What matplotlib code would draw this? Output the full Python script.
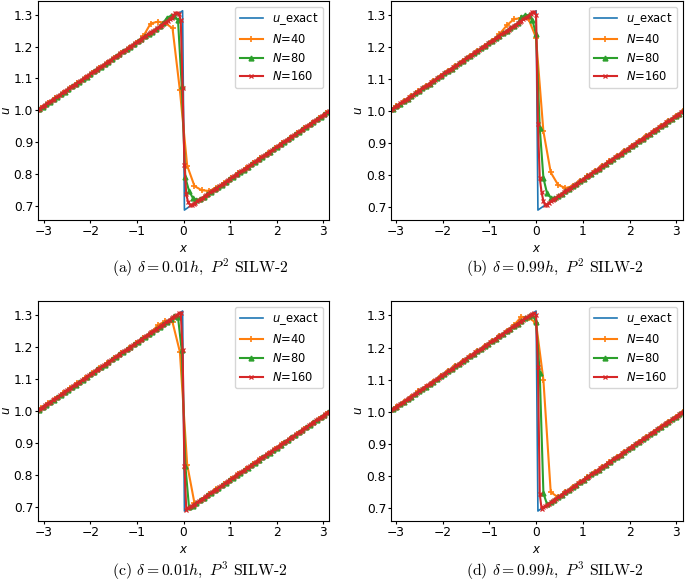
import numpy as np
import matplotlib.pyplot as plt

# exact solution read on the cell-centred grids (panels a, c)
ex40_c = [1.008, 1.024, 1.039, 1.055, 1.071, 1.086, 1.102, 1.118, 1.134, 1.149,
          1.165, 1.181, 1.196, 1.212, 1.228, 1.243, 1.259, 1.275, 1.291, 1.306,
          0.694, 0.709, 0.725, 0.741, 0.757, 0.772, 0.788, 0.804, 0.819, 0.835,
          0.851, 0.866, 0.882, 0.898, 0.914, 0.929, 0.945, 0.961, 0.976, 0.992]
ex80_c = [1.004, 1.012, 1.020, 1.027, 1.035, 1.043, 1.051, 1.059, 1.067, 1.075,
          1.082, 1.090, 1.098, 1.106, 1.114, 1.122, 1.130, 1.137, 1.145, 1.153,
          1.161, 1.169, 1.177, 1.185, 1.192, 1.200, 1.208, 1.216, 1.224, 1.232,
          1.240, 1.247, 1.255, 1.263, 1.271, 1.279, 1.287, 1.295, 1.302, 1.310,
          0.690, 0.698, 0.705, 0.713, 0.721, 0.729, 0.737, 0.745, 0.753, 0.760,
          0.768, 0.776, 0.784, 0.792, 0.800, 0.808, 0.815, 0.823, 0.831, 0.839,
          0.847, 0.855, 0.863, 0.870, 0.878, 0.886, 0.894, 0.902, 0.910, 0.918,
          0.925, 0.933, 0.941, 0.949, 0.957, 0.965, 0.973, 0.980, 0.988, 0.996]
ex160_c = [1.002, 1.006, 1.010, 1.014, 1.018, 1.022, 1.026, 1.029, 1.033, 1.037,
           1.041, 1.045, 1.049, 1.053, 1.057, 1.061, 1.065, 1.069, 1.073, 1.077,
           1.081, 1.084, 1.088, 1.092, 1.096, 1.100, 1.104, 1.108, 1.112, 1.116,
           1.120, 1.124, 1.128, 1.132, 1.135, 1.139, 1.143, 1.147, 1.151, 1.155,
           1.159, 1.163, 1.167, 1.171, 1.175, 1.179, 1.183, 1.187, 1.190, 1.194,
           1.198, 1.202, 1.206, 1.210, 1.214, 1.218, 1.222, 1.226, 1.230, 1.234,
           1.238, 1.242, 1.245, 1.249, 1.253, 1.257, 1.261, 1.265, 1.269, 1.273,
           1.277, 1.281, 1.285, 1.289, 1.293, 1.297, 1.300, 1.304, 1.308, 1.312,
           0.688, 0.692, 0.696, 0.700, 0.704, 0.707, 0.711, 0.715, 0.719, 0.723,
           0.727, 0.731, 0.735, 0.739, 0.743, 0.747, 0.751, 0.755, 0.758, 0.762,
           0.766, 0.770, 0.774, 0.778, 0.782, 0.786, 0.790, 0.794, 0.798, 0.802,
           0.806, 0.810, 0.813, 0.817, 0.821, 0.825, 0.829, 0.833, 0.837, 0.841,
           0.845, 0.849, 0.853, 0.857, 0.861, 0.865, 0.868, 0.872, 0.876, 0.880,
           0.884, 0.888, 0.892, 0.896, 0.900, 0.904, 0.908, 0.912, 0.916, 0.920,
           0.923, 0.927, 0.931, 0.935, 0.939, 0.943, 0.947, 0.951, 0.955, 0.959,
           0.963, 0.967, 0.971, 0.974, 0.978, 0.982, 0.986, 0.990, 0.994, 0.998]

# exact solution read on the shifted grids (panels b, d)
ex40_s = [1.016, 1.031, 1.047, 1.063, 1.078, 1.094, 1.110, 1.126, 1.141, 1.157,
          1.173, 1.188, 1.204, 1.220, 1.235, 1.251, 1.267, 1.283, 1.298, 1.314,
          0.701, 0.717, 0.733, 0.749, 0.764, 0.780, 0.796, 0.811, 0.827, 0.843,
          0.858, 0.874, 0.890, 0.906, 0.921, 0.937, 0.953, 0.968, 0.984, 1.000]
ex80_s = [1.008, 1.016, 1.023, 1.031, 1.039, 1.047, 1.055, 1.063, 1.071, 1.078,
          1.086, 1.094, 1.102, 1.110, 1.118, 1.126, 1.133, 1.141, 1.149, 1.157,
          1.165, 1.173, 1.181, 1.188, 1.196, 1.204, 1.212, 1.220, 1.228, 1.236,
          1.243, 1.251, 1.259, 1.267, 1.275, 1.283, 1.291, 1.298, 1.306, 1.314,
          0.694, 0.701, 0.709, 0.717, 0.725, 0.733, 0.741, 0.749, 0.756, 0.764,
          0.772, 0.780, 0.788, 0.796, 0.804, 0.811, 0.819, 0.827, 0.835, 0.843,
          0.851, 0.859, 0.866, 0.874, 0.882, 0.890, 0.898, 0.906, 0.914, 0.921,
          0.929, 0.937, 0.945, 0.953, 0.961, 0.969, 0.976, 0.984, 0.992, 1.000]
ex160_s = [1.004, 1.008, 1.012, 1.016, 1.020, 1.024, 1.027, 1.031, 1.035, 1.039,
           1.043, 1.047, 1.051, 1.055, 1.059, 1.063, 1.067, 1.071, 1.075, 1.079,
           1.082, 1.086, 1.090, 1.094, 1.098, 1.102, 1.106, 1.110, 1.114, 1.118,
           1.122, 1.126, 1.130, 1.133, 1.137, 1.141, 1.145, 1.149, 1.153, 1.157,
           1.161, 1.165, 1.169, 1.173, 1.177, 1.181, 1.185, 1.188, 1.192, 1.196,
           1.200, 1.204, 1.208, 1.212, 1.216, 1.220, 1.224, 1.228, 1.232, 1.236,
           1.240, 1.243, 1.247, 1.251, 1.255, 1.259, 1.263, 1.267, 1.271, 1.275,
           1.279, 1.283, 1.287, 1.291, 1.294, 1.298, 1.302, 1.306, 1.310, 1.314,
           0.690, 0.694, 0.698, 0.702, 0.705, 0.709, 0.713, 0.717, 0.721, 0.725,
           0.729, 0.733, 0.737, 0.741, 0.745, 0.749, 0.753, 0.756, 0.760, 0.764,
           0.768, 0.772, 0.776, 0.780, 0.784, 0.788, 0.792, 0.796, 0.800, 0.804,
           0.808, 0.811, 0.815, 0.819, 0.823, 0.827, 0.831, 0.835, 0.839, 0.843,
           0.847, 0.851, 0.855, 0.859, 0.863, 0.866, 0.870, 0.874, 0.878, 0.882,
           0.886, 0.890, 0.894, 0.898, 0.902, 0.906, 0.910, 0.914, 0.917, 0.921,
           0.925, 0.929, 0.933, 0.937, 0.941, 0.945, 0.949, 0.953, 0.957, 0.961,
           0.965, 0.969, 0.972, 0.976, 0.980, 0.984, 0.988, 0.992, 0.996, 1.000]

# numerical values near the jump (grid index -> u); elsewhere they sit on the exact line
a40 = {14: 1.232, 15: 1.272, 16: 1.278, 17: 1.274, 18: 1.257, 19: 1.064,
       20: 0.827, 21: 0.763, 22: 0.750, 23: 0.748, 24: 0.758}
a80 = {34: 1.275, 35: 1.290, 36: 1.296, 37: 1.296, 38: 1.282, 39: 1.078,
       40: 0.790, 41: 0.748, 42: 0.727, 43: 0.720, 44: 0.722}
a160 = {74: 1.298, 75: 1.304, 76: 1.306, 77: 1.303, 78: 1.282, 79: 1.070,
        80: 0.830, 81: 0.737, 82: 0.713, 83: 0.705, 84: 0.704, 85: 0.707}

b40 = {14: 1.240, 15: 1.268, 16: 1.288, 17: 1.291, 18: 1.287, 19: 1.230,
       20: 0.937, 21: 0.808, 22: 0.769, 23: 0.759, 24: 0.765}
b80 = {35: 1.293, 36: 1.301, 37: 1.300, 38: 1.285, 39: 1.240,
       40: 0.948, 41: 0.790, 42: 0.742, 43: 0.729, 44: 0.727}
b160 = {76: 1.305, 77: 1.309, 78: 1.310, 79: 1.300,
        80: 0.960, 81: 0.790, 82: 0.745, 83: 0.718, 84: 0.707, 85: 0.707}

c40 = {16: 1.268, 17: 1.280, 18: 1.277, 19: 1.185, 20: 0.833, 21: 0.712, 22: 0.723}
c80 = {37: 1.296, 38: 1.292, 39: 1.190, 40: 0.830, 41: 0.700}
c160 = {77: 1.305, 78: 1.305, 79: 1.190, 80: 0.830, 81: 0.692}

d40 = {16: 1.270, 17: 1.296, 18: 1.293, 19: 1.277, 20: 1.100, 21: 0.749, 22: 0.733}
d80 = {37: 1.298, 38: 1.303, 39: 1.280, 40: 1.120, 41: 0.745, 42: 0.711}
d160 = {78: 1.307, 79: 1.300, 80: 1.140, 81: 0.743, 82: 0.697}

captions = [r"(a) $\delta=0.01h,\ P^2$ SILW-2",
            r"(b) $\delta=0.99h,\ P^2$ SILW-2",
            r"(c) $\delta=0.01h,\ P^3$ SILW-2",
            r"(d) $\delta=0.99h,\ P^3$ SILW-2"]


def grid(n, off):
    h = 2 * np.pi / n
    return -np.pi + (np.arange(n) + off) * h


def numeric(base, near):
    u = np.array(base, dtype=float)
    for i, v in near.items():
        u[i] = v
    return u


panels = [
    (0.5, [ex40_c, ex80_c, ex160_c], [a40, a80, a160]),
    (0.99, [ex40_s, ex80_s, ex160_s], [b40, b80, b160]),
    (0.5, [ex40_c, ex80_c, ex160_c], [c40, c80, c160]),
    (0.99, [ex40_s, ex80_s, ex160_s], [d40, d80, d160]),
]

fig = plt.figure(figsize=(6.85, 5.83), dpi=100)
boxes = [[0.0555, 0.6226, 0.4248, 0.376],
         [0.5708, 0.6226, 0.4263, 0.376],
         [0.0555, 0.1063, 0.4248, 0.3774],
         [0.5708, 0.1063, 0.4263, 0.3774]]
ylpad = [0.3, 1.0, 0.3, 1.0]
cap_x = [200 / 685, 555 / 685, 200 / 685, 555 / 685]
cap_y = [1 - 268 / 583, 1 - 268 / 583, 1 - 571 / 583, 1 - 571 / 583]

styles = [("C1", "+", 5, 1.2, r"$N$=40"), ("C2", "^", 3.5, 1.0, r"$N$=80"),
          ("C3", "x", 2.2, 0.9, r"$N$=160")]

for k, (off, bases, nears) in enumerate(panels):
    ax = fig.add_axes(boxes[k])
    xe = grid(160, off)
    ax.plot(xe, bases[2], color="C0", lw=1.2, label=r"$u$_exact")
    for (col, mk, ms, mw, lab), base, near in zip(styles, bases, nears):
        n = len(base)
        ax.plot(grid(n, off), numeric(base, near), color=col, marker=mk, ms=ms,
                mew=mw, lw=1.5, label=lab)
    ax.set_xlim(xe[0], xe[-1])
    ax.set_yticks(np.arange(0.7, 1.31, 0.1))
    ax.tick_params(labelsize=8.8, length=2, pad=1.5)
    ax.set_xlabel(r"$x$", fontsize=8.5, labelpad=3)
    ax.set_ylabel(r"$u$", fontsize=8.5, labelpad=ylpad[k])
    ax.legend(loc="upper right", fontsize=8.3)
    fig.text(cap_x[k], cap_y[k], captions[k], ha="center", va="center",
             family="cmr10", math_fontfamily="cm", fontsize=11.3)

fig.savefig("out.png", dpi=100)
